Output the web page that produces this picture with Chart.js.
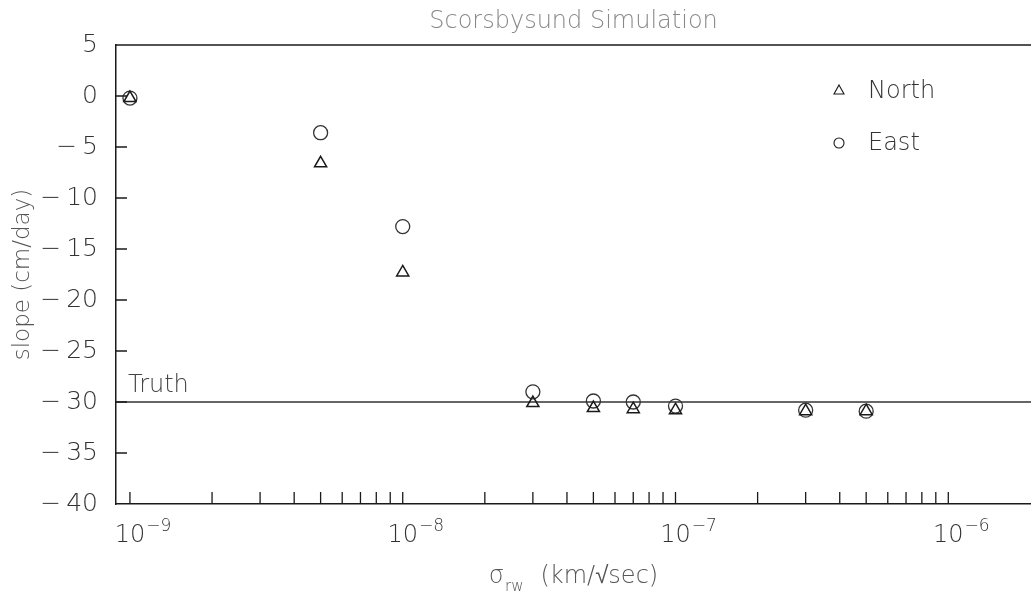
<!DOCTYPE html>
<html>
<head>
<meta charset="utf-8">
<title>Scorsbysund Simulation</title>
<script src="https://cdn.jsdelivr.net/npm/chart.js@4"></script>
<style>
  html, body { margin: 0; background: #fff; overflow: hidden; }
  #wrap { width: 1031px; height: 599px; position: relative; }
  #slopeChart { display: block; }
</style>
</head>
<body>
<div id="wrap"><canvas id="slopeChart"></canvas></div>
<script>
// Random-walk sigma of each simulation run (km/sqrt(sec))
const sigmaRw = [1e-9, 5e-9, 1e-8, 3e-8, 5e-8, 7e-8, 1e-7, 3e-7, 5e-7];
// Recovered slope for each component (cm/day)
const northSlope = [-0.2, -6.6, -17.3, -30.1, -30.6, -30.7, -30.8, -30.9, -30.9];
const eastSlope = [-0.2, -3.6, -12.8, -29.0, -29.9, -30.0, -30.4, -30.8, -30.9];
// Slope put into the simulation
const truthSlope = -30;

// Axis ranges
const xMin = 8.89e-10, xMax = 2.01e-6;
const yMin = -40, yMax = 5, yStep = 5;
const xDecades = [-9, -8, -7, -6];

const FONT = "'DejaVu Sans', sans-serif";
const INK = "#1a1a1a";

function font(size) {
    return "200 " + size + "px " + FONT;
}

// Frame, inward ticks and all the text around the plot
const decor = {
    id: "decor",
    afterDraw(chart) {
        const { ctx, chartArea: a, scales: { x, y } } = chart;
        ctx.save();
        ctx.strokeStyle = INK;

        // top edge of the frame
        ctx.lineWidth = 1.5;
        ctx.beginPath();
        ctx.moveTo(a.left, a.top);
        ctx.lineTo(a.right, a.top);
        ctx.stroke();

        // ticks pointing into the plot
        ctx.lineWidth = 1.3;
        ctx.beginPath();
        x.ticks.forEach((t) => {
            const px = x.getPixelForValue(t.value);
            ctx.moveTo(px, a.bottom);
            ctx.lineTo(px, a.bottom - 12);
        });
        y.ticks.forEach((t) => {
            if (t.value === yMin || t.value === yMax) return;
            const py = y.getPixelForValue(t.value);
            ctx.moveTo(a.left, py);
            ctx.lineTo(a.left + 11, py);
        });
        ctx.stroke();

        // decade labels 10^n
        ctx.fillStyle = "#333";
        ctx.textBaseline = "alphabetic";
        xDecades.forEach((e) => {
            const px = x.getPixelForValue(Math.pow(10, e));
            ctx.font = font(24);
            ctx.textAlign = "center";
            const w = ctx.measureText("10").width;
            ctx.fillText("10", px, a.bottom + 38);
            ctx.font = font(17);
            ctx.textAlign = "left";
            ctx.fillText("\u2212" + Math.abs(e), px + w / 2 + 1, a.bottom + 27);
        });

        // x axis title: sigma_rw (km/sqrt(sec))
        ctx.fillStyle = "#555";
        ctx.font = font(24);
        const wSig = ctx.measureText("\u03c3").width;
        const unit = "(km/\u221asec)";
        const wUnit = ctx.measureText(unit).width;
        ctx.font = font(15);
        const wSub = ctx.measureText("rw").width;
        const gap = 18;
        let tx = (a.left + a.right) / 2 - (wSig + wSub + gap + wUnit) / 2;
        ctx.textAlign = "left";
        ctx.font = font(24);
        ctx.fillText("\u03c3", tx, a.bottom + 79);
        ctx.font = font(15);
        ctx.fillText("rw", tx + wSig + 1, a.bottom + 87);
        ctx.font = font(24);
        ctx.fillText(unit, tx + wSig + wSub + gap, a.bottom + 79);

        // y axis title
        ctx.save();
        ctx.translate(23, (a.top + a.bottom) / 2);
        ctx.rotate(-Math.PI / 2);
        ctx.textAlign = "center";
        ctx.textBaseline = "middle";
        ctx.font = font(23);
        ctx.fillText("slope (cm/day)", 0, 0);
        ctx.restore();

        // chart title
        ctx.fillStyle = "#888";
        ctx.font = font(24);
        ctx.textAlign = "center";
        ctx.fillText("Scorsbysund Simulation", (a.left + a.right) / 2, 28);

        // label on the truth line
        ctx.fillStyle = "#444";
        ctx.textAlign = "left";
        ctx.fillText("Truth", a.left + 12, y.getPixelForValue(truthSlope) - 10);

        // legend
        const lx = a.right - 192;
        [0, 1].forEach((i) => {
            const ds = chart.data.datasets[i];
            const ly = a.top + 46 + i * 52;
            ctx.strokeStyle = INK;
            ctx.lineWidth = 1.1;
            ctx.beginPath();
            if (ds.pointStyle === "triangle") {
                ctx.moveTo(lx, ly - 6);
                ctx.lineTo(lx + 5, ly + 3);
                ctx.lineTo(lx - 5, ly + 3);
                ctx.closePath();
            } else {
                ctx.arc(lx, ly, 5, 0, Math.PI * 2);
            }
            ctx.stroke();
            ctx.fillStyle = "#333";
            ctx.font = font(24);
            ctx.textBaseline = "middle";
            ctx.fillText(ds.label, lx + 29, ly + 1);
        });
        ctx.restore();
    }
};

const ctx = document.getElementById("slopeChart").getContext("2d");
const chart = new Chart(ctx, {
    type: "scatter",
    data: {
        datasets: [
            {
                label: "North",
                data: sigmaRw.map((s, i) => ({ x: s, y: northSlope[i] })),
                pointStyle: "triangle",
                pointRadius: 7,
                borderColor: INK,
                borderWidth: 1.5,
                backgroundColor: "rgba(0,0,0,0)",
            },
            {
                label: "East",
                data: sigmaRw.map((s, i) => ({ x: s, y: eastSlope[i] })),
                pointStyle: "circle",
                pointRadius: 7,
                borderColor: "#333",
                borderWidth: 1.3,
                backgroundColor: "rgba(0,0,0,0)",
            },
            {
                type: "line",
                label: "Truth",
                data: [{ x: xMin, y: truthSlope }, { x: xMax, y: truthSlope }],
                borderColor: "#333",
                borderWidth: 1.3,
                pointRadius: 0,
                fill: false,
            },
        ],
    },
    options: {
        responsive: true,
        maintainAspectRatio: false,
        animation: false,
        layout: { autoPadding: false, padding: { top: 45, left: 0, right: 0, bottom: 0 } },
        plugins: {
            legend: { display: false },
            title: { display: false },
            tooltip: { enabled: false },
        },
        scales: {
            x: {
                type: "logarithmic",
                min: xMin,
                max: xMax,
                bounds: "data",
                grid: { display: false },
                border: { display: true, color: INK, width: 1.5 },
                ticks: { display: false },
                afterBuildTicks: (scale) => {
                    // 1..9 x 10^n minor and major ticks
                    const list = [];
                    xDecades.forEach((e) => {
                        for (let m = 1; m <= 9; m++) {
                            const v = m * Math.pow(10, e);
                            if (v >= xMin && v <= Math.pow(10, xDecades[xDecades.length - 1])) list.push({ value: v });
                        }
                    });
                    scale.ticks = list;
                },
                afterFit: (scale) => { scale.height = 95; },
            },
            y: {
                min: yMin,
                max: yMax,
                grid: { display: false },
                border: { display: true, color: INK, width: 1.5 },
                ticks: {
                    stepSize: yStep,
                    padding: 10,
                    color: "#333",
                    font: { family: FONT, size: 25, weight: 200 },
                    callback: (v) => (v < 0 ? "\u2212\u2009" + Math.abs(v) : String(v)),
                },
                afterFit: (scale) => { scale.width = 116; },
            },
        },
    },
    plugins: [decor],
});
</script>
</body>
</html>
